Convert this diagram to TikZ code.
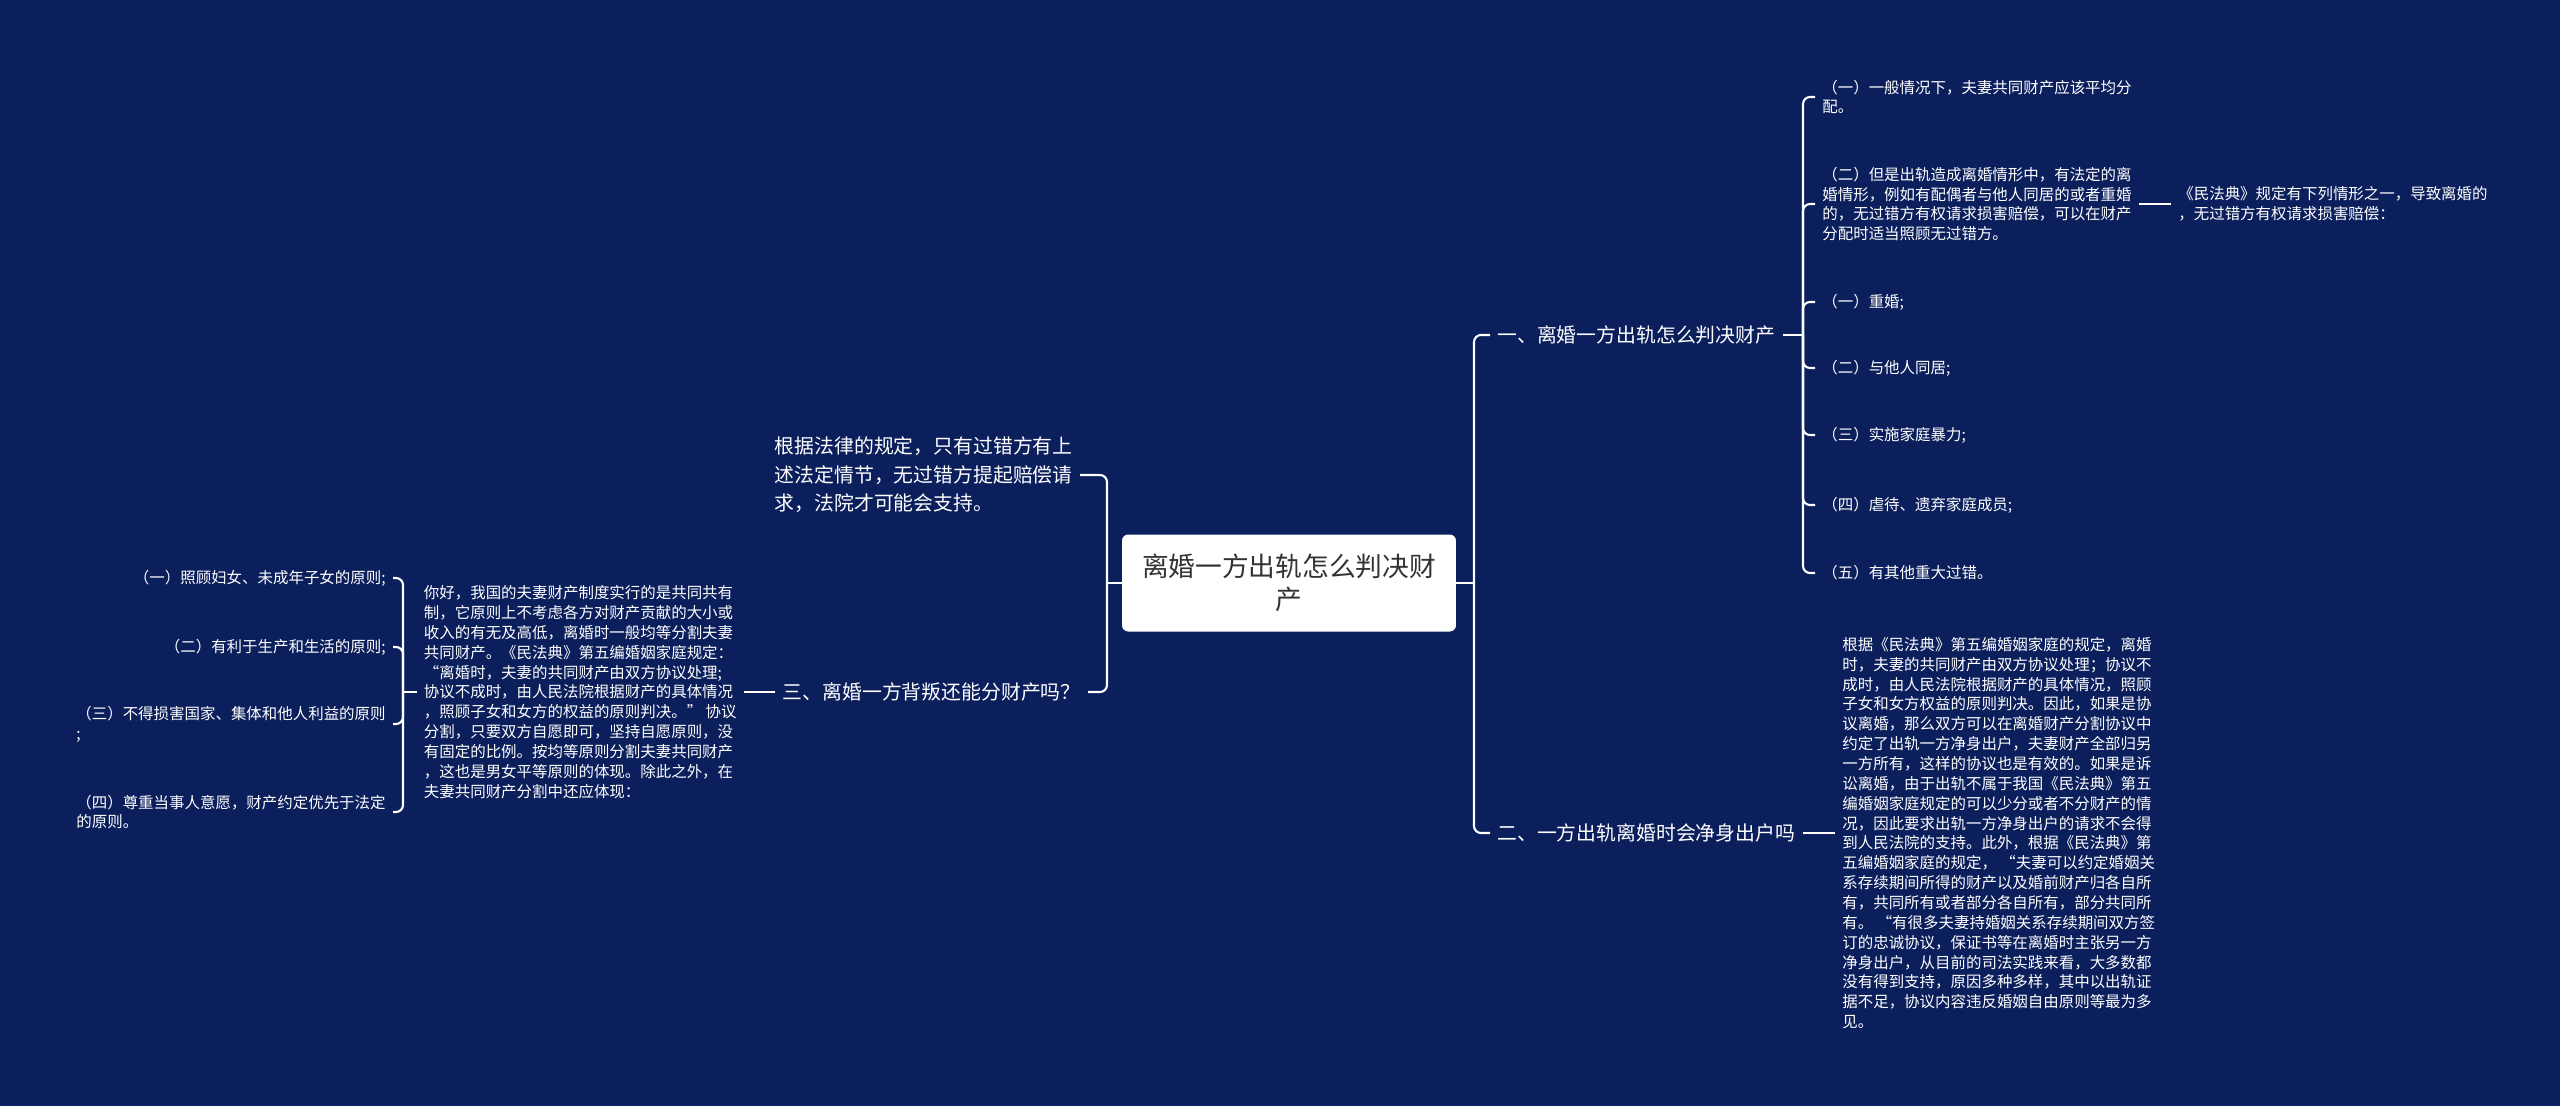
\documentclass[tikz,border=0pt]{standalone}
\usepackage{fontspec}
\newfontfamily\cjk{Noto Sans CJK SC}
\definecolor{mapbg}{HTML}{0B1F5C}
\definecolor{roottext}{HTML}{333333}
\tikzset{
  link/.style={draw=white, line width=1.2pt},
  fork/.style={link, rounded corners=4pt},
  leaf/.style={font={\cjk\fontsize{8.8pt}{11.3pt}\selectfont}, text=white, align=left, inner xsep=4pt, inner ysep=0pt},
  branch/.style={leaf, font={\cjk\fontsize{11.3pt}{16.2pt}\selectfont}},
  rootbox/.style={fill=white, rounded corners=3.5pt, minimum width=6.68cm, minimum height=1.94cm, align=center, text=roottext, font={\cjk\fontsize{15.2pt}{18.8pt}\selectfont}}
}
\begin{document}
\begin{tikzpicture}[x=0.02cm, y=-0.02cm]
  \fill[mapbg] (0,0) rectangle (2560,1106);
  \node[rootbox] (root) at (1289,583) {离婚一方出轨怎么判决财\\产};

  \node[branch, anchor=west] (b1) at (1490,335) {一、离婚一方出轨怎么判决财产};
  \node[branch, anchor=west] (b2) at (1490,833) {二、一方出轨离婚时会净身出户吗};
  \node[leaf, anchor=west] (c1) at (1815,97) {（一）一般情况下，夫妻共同财产应该平均分\\配。};
  \node[leaf, anchor=west] (c2) at (1815,204) {（二）但是出轨造成离婚情形中，有法定的离\\婚情形，例如有配偶者与他人同居的或者重婚\\的，无过错方有权请求损害赔偿，可以在财产\\分配时适当照顾无过错方。};
  \node[leaf, anchor=west] (c3) at (1815,302) {（一）重婚;};
  \node[leaf, anchor=west] (c4) at (1815,368) {（二）与他人同居;};
  \node[leaf, anchor=west] (c5) at (1815,435) {（三）实施家庭暴力;};
  \node[leaf, anchor=west] (c6) at (1815,505) {（四）虐待、遗弃家庭成员;};
  \node[leaf, anchor=west] (c7) at (1815,573) {（五）有其他重大过错。};
  \node[leaf, anchor=west] (d1) at (2171,204) {《民法典》规定有下列情形之一，导致离婚的\\，无过错方有权请求损害赔偿：};
  \node[leaf, anchor=west] (law) at (1835,833) {根据《民法典》第五编婚姻家庭的规定，离婚\\时，夫妻的共同财产由双方协议处理；协议不\\成时，由人民法院根据财产的具体情况，照顾\\子女和女方权益的原则判决。因此，如果是协\\议离婚，那么双方可以在离婚财产分割协议中\\约定了出轨一方净身出户，夫妻财产全部归另\\一方所有，这样的协议也是有效的。如果是诉\\讼离婚，由于出轨不属于我国《民法典》第五\\编婚姻家庭规定的可以少分或者不分财产的情\\况，因此要求出轨一方净身出户的请求不会得\\到人民法院的支持。此外，根据《民法典》第\\五编婚姻家庭的规定， “夫妻可以约定婚姻关\\系存续期间所得的财产以及婚前财产归各自所\\有，共同所有或者部分各自所有，部分共同所\\有。 “有很多夫妻持婚姻关系存续期间双方签\\订的忠诚协议，保证书等在离婚时主张另一方\\净身出户，从目前的司法实践来看，大多数都\\没有得到支持，原因多种多样，其中以出轨证\\据不足，协议内容违反婚姻自由原则等最为多\\见。};

  \node[branch, anchor=east] (a1) at (1080,475) {根据法律的规定，只有过错方有上\\述法定情节，无过错方提起赔偿请\\求，法院才可能会支持。};
  \node[branch, anchor=east] (a2) at (1088,692) {三、离婚一方背叛还能分财产吗？};
  \node[leaf, anchor=east] (p1) at (744,692) {你好，我国的夫妻财产制度实行的是共同共有\\制，它原则上不考虑各方对财产贡献的大小或\\收入的有无及高低，离婚时一般均等分割夫妻\\共同财产。《民法典》第五编婚姻家庭规定：\\“离婚时，夫妻的共同财产由双方协议处理;\\协议不成时，由人民法院根据财产的具体情况\\，照顾子女和女方的权益的原则判决。” 协议\\分割，只要双方自愿即可，坚持自愿原则，没\\有固定的比例。按均等原则分割夫妻共同财产\\，这也是男女平等原则的体现。除此之外，在\\夫妻共同财产分割中还应体现：};
  \node[leaf, anchor=east] (e1) at (393,578) {（一）照顾妇女、未成年子女的原则;};
  \node[leaf, anchor=east] (e2) at (393,647) {（二）有利于生产和生活的原则;};
  \node[leaf, anchor=east] (e3) at (393,724) {（三）不得损害国家、集体和他人利益的原则\\;};
  \node[leaf, anchor=east] (e4) at (393,812) {（四）尊重当事人意愿，财产约定优先于法定\\的原则。};

  \coordinate (rj) at (1474,583);
  \coordinate (b1j) at (1803,335);
  \coordinate (lj) at (1107,583);
  \coordinate (pj) at (403,692);
  \draw[link] (root.east) -- (rj);
  \foreach \n in {b1,b2} \draw[fork] (rj) |- (\n.west);
  \draw[link] (b1.east) -- (b1j);
  \foreach \n in {c1,c2,c3,c4,c5,c6,c7} \draw[fork] (b1j) |- (\n.west);
  \draw[link] (c2.east) -- (d1.west);
  \draw[link] (b2.east) -- (law.west);
  \draw[link] (root.west) -- (lj);
  \foreach \n in {a1,a2} \draw[fork] (lj) |- (\n.east);
  \draw[link] (a2.west) -- (p1.east);
  \draw[link] (p1.west) -- (pj);
  \foreach \n in {e1,e2,e3,e4} \draw[fork] (pj) |- (\n.east);
\end{tikzpicture}
\end{document}
